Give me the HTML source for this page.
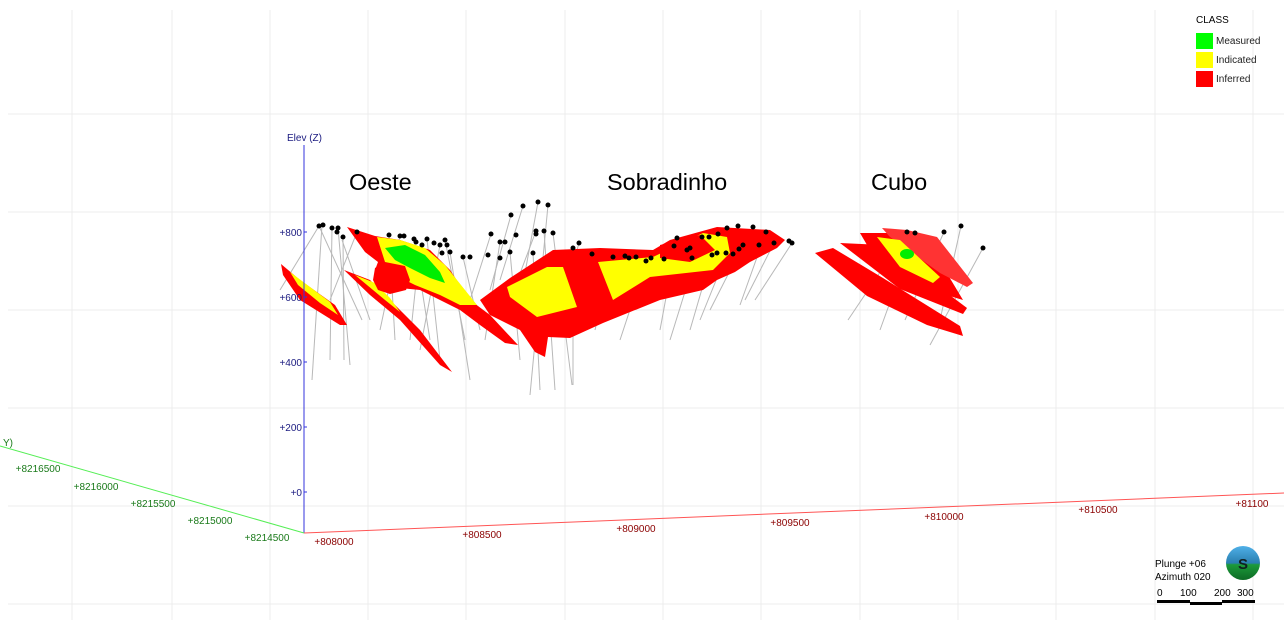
<!DOCTYPE html>
<html><head><meta charset="utf-8"><style>
html,body{margin:0;padding:0;background:#fff;}
svg{display:block;font-family:"Liberation Sans",sans-serif;}
</style></head><body>
<svg width="1284" height="630" viewBox="0 0 1284 630" xmlns="http://www.w3.org/2000/svg">
<rect width="1284" height="630" fill="#fff"/>
<g stroke="#ececec" stroke-width="1">
<line x1="72" y1="10" x2="72" y2="620"/><line x1="172" y1="10" x2="172" y2="620"/><line x1="270" y1="10" x2="270" y2="620"/><line x1="368" y1="10" x2="368" y2="620"/><line x1="466" y1="10" x2="466" y2="620"/><line x1="565" y1="10" x2="565" y2="620"/><line x1="663" y1="10" x2="663" y2="620"/><line x1="761" y1="10" x2="761" y2="620"/><line x1="860" y1="10" x2="860" y2="620"/><line x1="958" y1="10" x2="958" y2="620"/><line x1="1056" y1="10" x2="1056" y2="620"/><line x1="1155" y1="10" x2="1155" y2="620"/><line x1="1253" y1="10" x2="1253" y2="620"/>
<line x1="8" y1="114" x2="1284" y2="114"/><line x1="8" y1="212" x2="1284" y2="212"/><line x1="8" y1="310" x2="1284" y2="310"/><line x1="8" y1="408" x2="1284" y2="408"/><line x1="8" y1="506" x2="1284" y2="506"/><line x1="8" y1="604" x2="1284" y2="604"/>
</g>
<!-- drill traces -->
<g stroke="#b8b8b8" stroke-width="1">
<line x1="319" y1="226" x2="280" y2="290"/><line x1="322" y1="225" x2="312" y2="380"/><line x1="332" y1="228" x2="330" y2="360"/><line x1="338" y1="228" x2="350" y2="365"/><line x1="343" y1="237" x2="344" y2="360"/><line x1="319" y1="226" x2="362" y2="320"/><line x1="357" y1="232" x2="330" y2="300"/><line x1="389" y1="235" x2="395" y2="340"/><line x1="400" y1="236" x2="380" y2="330"/><line x1="414" y1="239" x2="430" y2="340"/><line x1="427" y1="239" x2="440" y2="360"/><line x1="440" y1="245" x2="420" y2="350"/><line x1="445" y1="240" x2="465" y2="340"/><line x1="450" y1="252" x2="470" y2="380"/><line x1="463" y1="257" x2="480" y2="330"/><line x1="491" y1="234" x2="470" y2="300"/><line x1="500" y1="242" x2="485" y2="340"/><line x1="510" y1="252" x2="520" y2="360"/><line x1="511" y1="215" x2="490" y2="290"/><line x1="523" y1="206" x2="500" y2="280"/><line x1="538" y1="202" x2="520" y2="300"/><line x1="548" y1="205" x2="530" y2="395"/><line x1="536" y1="231" x2="510" y2="300"/><line x1="544" y1="231" x2="555" y2="390"/><line x1="553" y1="233" x2="572" y2="385"/><line x1="579" y1="243" x2="560" y2="310"/><line x1="613" y1="257" x2="595" y2="330"/><line x1="646" y1="261" x2="620" y2="340"/><line x1="677" y1="238" x2="660" y2="330"/><line x1="702" y1="237" x2="670" y2="340"/><line x1="718" y1="234" x2="690" y2="330"/><line x1="738" y1="226" x2="700" y2="320"/><line x1="743" y1="245" x2="710" y2="310"/><line x1="766" y1="232" x2="740" y2="305"/><line x1="774" y1="243" x2="745" y2="300"/><line x1="792" y1="243" x2="755" y2="300"/><line x1="907" y1="232" x2="848" y2="320"/><line x1="944" y1="232" x2="905" y2="320"/><line x1="961" y1="226" x2="940" y2="320"/><line x1="983" y1="248" x2="930" y2="345"/><line x1="915" y1="233" x2="880" y2="330"/><line x1="420" y1="245" x2="410" y2="340"/><line x1="342" y1="240" x2="370" y2="320"/><line x1="573" y1="248" x2="573" y2="385"/><line x1="533" y1="253" x2="540" y2="390"/>
</g>
<!-- Oeste -->
<polygon points="281,264 300,280 335,305 347,325 340,325 300,300 283,275" fill="#f00"/>
<polygon points="290,272 310,287 330,302 338,315 320,303 298,285" fill="#ff0"/>
<polygon points="344,270 370,280 390,300 420,330 452,372 440,365 400,320 370,295" fill="#f00"/>
<polygon points="355,275 375,283 390,298 400,312 385,300" fill="#ff0"/>
<polygon points="347,227 375,236 400,240 430,250 450,270 470,300 490,315 518,345 505,343 480,325 460,310 440,300 420,290 400,288 385,285 375,270 378,262 365,252" fill="#f00"/>
<polygon points="377,237 400,240 425,248 445,265 465,290 477,305 460,305 440,295 415,285 395,275 385,262" fill="#ff0"/>
<polygon points="385,248 405,245 425,255 440,272 445,283 430,278 410,268 395,260" fill="#0e0"/>
<polygon points="375,268 385,262 405,266 410,280 406,290 390,294 378,290 373,280" fill="#f00"/>
<!-- Sobradinho -->
<polygon points="480,300 510,278 553,250 600,248 653,250 670,240 717,227 770,230 785,240 777,248 750,262 735,272 717,280 703,290 660,300 603,323 570,338 548,337 545,357 535,352 520,330 490,315" fill="#f00"/>
<polygon points="507,287 547,267 563,267 577,307 537,317 510,297" fill="#ff0"/>
<polygon points="598,262 653,257 703,233 727,237 730,253 713,270 650,277 613,300" fill="#ff0"/>
<polygon points="660,245 700,235 715,250 690,262 660,258" fill="#f00"/>
<!-- Cubo -->
<polygon points="815,253 833,248 883,278 960,326 963,336 927,325 867,296" fill="#f00"/>
<polygon points="840,243 883,245 967,308 963,314 900,289" fill="#f00"/>
<polygon points="860,233 887,233 933,250 963,300 943,294 877,262" fill="#f00"/>
<polygon points="882,228 907,230 937,237 973,283 967,287 940,273 890,237" fill="#f33"/>
<polygon points="877,237 900,240 940,277 933,283 900,267" fill="#ff0"/>
<ellipse cx="907" cy="254" rx="7" ry="5" fill="#0e0"/>
<!-- dots -->
<g fill="#000">
<circle cx="319" cy="226" r="2.5"/><circle cx="323" cy="225" r="2.5"/><circle cx="332" cy="228" r="2.5"/><circle cx="338" cy="228" r="2.5"/><circle cx="337" cy="232" r="2.5"/><circle cx="343" cy="237" r="2.5"/><circle cx="357" cy="232" r="2.5"/><circle cx="389" cy="235" r="2.5"/><circle cx="400" cy="236" r="2.5"/><circle cx="404" cy="236" r="2.5"/><circle cx="414" cy="239" r="2.5"/><circle cx="416" cy="242" r="2.5"/><circle cx="422" cy="245" r="2.5"/><circle cx="427" cy="239" r="2.5"/><circle cx="434" cy="243" r="2.5"/><circle cx="440" cy="245" r="2.5"/><circle cx="445" cy="240" r="2.5"/><circle cx="447" cy="245" r="2.5"/><circle cx="442" cy="253" r="2.5"/><circle cx="450" cy="252" r="2.5"/><circle cx="463" cy="257" r="2.5"/><circle cx="470" cy="257" r="2.5"/><circle cx="491" cy="234" r="2.5"/><circle cx="500" cy="242" r="2.5"/><circle cx="505" cy="242" r="2.5"/><circle cx="510" cy="252" r="2.5"/><circle cx="500" cy="258" r="2.5"/><circle cx="488" cy="255" r="2.5"/><circle cx="511" cy="215" r="2.5"/><circle cx="523" cy="206" r="2.5"/><circle cx="538" cy="202" r="2.5"/><circle cx="548" cy="205" r="2.5"/><circle cx="516" cy="235" r="2.5"/><circle cx="536" cy="231" r="2.5"/><circle cx="536" cy="234" r="2.5"/><circle cx="544" cy="231" r="2.5"/><circle cx="553" cy="233" r="2.5"/><circle cx="533" cy="253" r="2.5"/><circle cx="573" cy="248" r="2.5"/><circle cx="579" cy="243" r="2.5"/><circle cx="592" cy="254" r="2.5"/><circle cx="613" cy="257" r="2.5"/><circle cx="625" cy="256" r="2.5"/><circle cx="629" cy="258" r="2.5"/><circle cx="636" cy="257" r="2.5"/><circle cx="646" cy="261" r="2.5"/><circle cx="651" cy="258" r="2.5"/><circle cx="664" cy="259" r="2.5"/><circle cx="677" cy="238" r="2.5"/><circle cx="674" cy="246" r="2.5"/><circle cx="687" cy="250" r="2.5"/><circle cx="690" cy="248" r="2.5"/><circle cx="692" cy="258" r="2.5"/><circle cx="702" cy="237" r="2.5"/><circle cx="709" cy="237" r="2.5"/><circle cx="718" cy="234" r="2.5"/><circle cx="727" cy="228" r="2.5"/><circle cx="738" cy="226" r="2.5"/><circle cx="743" cy="245" r="2.5"/><circle cx="733" cy="254" r="2.5"/><circle cx="726" cy="253" r="2.5"/><circle cx="717" cy="253" r="2.5"/><circle cx="712" cy="255" r="2.5"/><circle cx="739" cy="249" r="2.5"/><circle cx="766" cy="232" r="2.5"/><circle cx="774" cy="243" r="2.5"/><circle cx="759" cy="245" r="2.5"/><circle cx="753" cy="227" r="2.5"/><circle cx="789" cy="241" r="2.5"/><circle cx="792" cy="243" r="2.5"/>
<circle cx="907" cy="232" r="2.5"/><circle cx="915" cy="233" r="2.5"/><circle cx="944" cy="232" r="2.5"/><circle cx="961" cy="226" r="2.5"/><circle cx="983" cy="248" r="2.5"/>
</g>
<!-- axes -->
<line x1="304" y1="145" x2="304" y2="533" stroke="#3333dd" stroke-width="1"/>
<g stroke="#3333dd"><line x1="304" y1="232" x2="307" y2="232"/><line x1="304" y1="297" x2="307" y2="297"/><line x1="304" y1="362" x2="307" y2="362"/><line x1="304" y1="427" x2="307" y2="427"/><line x1="304" y1="492" x2="307" y2="492"/></g>
<g fill="#1a1a80" font-size="10" text-anchor="end">
<text x="302" y="236">+800</text><text x="302" y="301">+600</text><text x="302" y="366">+400</text><text x="302" y="431">+200</text><text x="302" y="496">+0</text>
</g>
<text x="287" y="141" fill="#1a1a80" font-size="10">Elev (Z)</text>
<line x1="304" y1="533" x2="1284" y2="493" stroke="#f55" stroke-width="1"/>
<g fill="#8b0000" font-size="10" text-anchor="middle">
<text x="334" y="545">+808000</text><text x="482" y="538">+808500</text><text x="636" y="532">+809000</text><text x="790" y="526">+809500</text><text x="944" y="520">+810000</text><text x="1098" y="513">+810500</text><text x="1252" y="507">+81100</text>
</g>
<line x1="304" y1="533" x2="0" y2="446" stroke="#5e5" stroke-width="1"/>
<g fill="#1a7a1a" font-size="10" text-anchor="middle">
<text x="8" y="446">Y)</text><text x="38" y="472">+8216500</text><text x="96" y="490">+8216000</text><text x="153" y="507">+8215500</text><text x="210" y="524">+8215000</text><text x="267" y="541">+8214500</text>
</g>
<!-- titles -->
<g font-size="23.5" fill="#000"><text x="349" y="190">Oeste</text><text x="607" y="190">Sobradinho</text><text x="871" y="190">Cubo</text></g>
<!-- legend -->
<text x="1196" y="23" font-size="10" fill="#000">CLASS</text>
<rect x="1196" y="33" width="17" height="16" fill="#0f0"/><text x="1216" y="44" font-size="10" fill="#222">Measured</text>
<rect x="1196" y="52" width="17" height="16" fill="#ff0"/><text x="1216" y="63" font-size="10" fill="#222">Indicated</text>
<rect x="1196" y="71" width="17" height="16" fill="#f00"/><text x="1216" y="82" font-size="10" fill="#222">Inferred</text>
<!-- orientation -->
<text x="1155" y="567" font-size="10" fill="#000">Plunge +06</text>
<text x="1155" y="580" font-size="10" fill="#000">Azimuth 020</text>
<defs><linearGradient id="sg" x1="0" y1="0" x2="0" y2="1"><stop offset="0" stop-color="#4fb0e8"/><stop offset="0.5" stop-color="#2a7fb0"/><stop offset="0.55" stop-color="#1c9a3a"/><stop offset="1" stop-color="#0d6a25"/></linearGradient></defs>
<circle cx="1243" cy="563" r="17" fill="url(#sg)"/>
<text x="1243" y="569" font-size="15" font-weight="bold" text-anchor="middle" fill="#102020">S</text>
<g font-size="10" fill="#000"><text x="1157" y="596">0</text><text x="1180" y="596">100</text><text x="1214" y="596">200</text><text x="1237" y="596">300</text></g>
<rect x="1157" y="600" width="33" height="3" fill="#000"/><rect x="1190" y="602" width="32" height="3" fill="#000"/><rect x="1222" y="600" width="33" height="3" fill="#000"/>
</svg>
</body></html>
